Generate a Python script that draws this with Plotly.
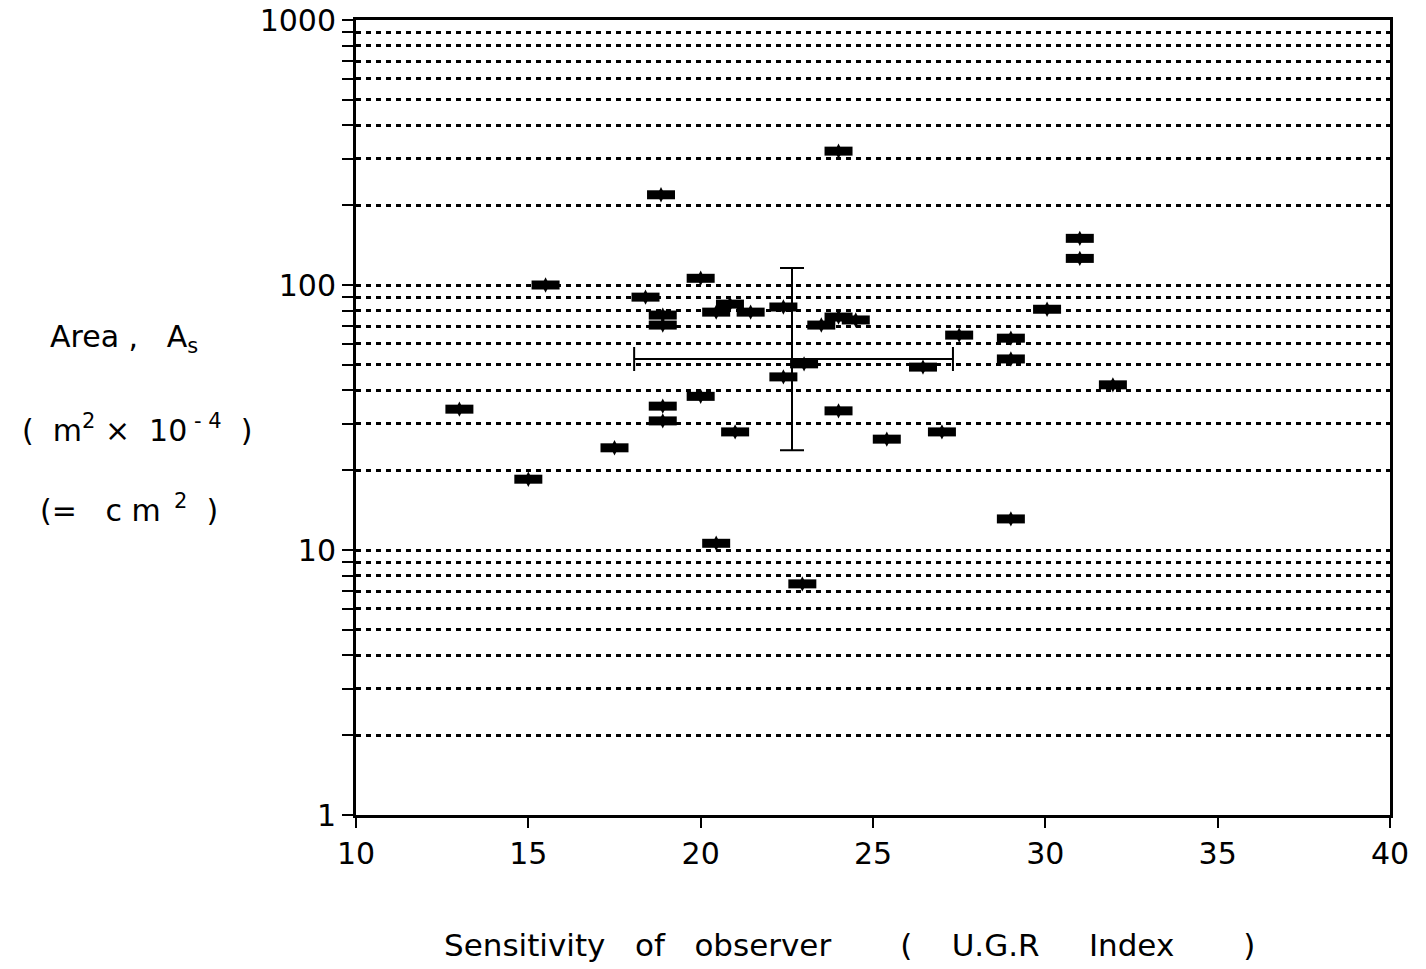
import plotly.graph_objects as go

# ---- data ----
ugr_index = [13.0, 15.0, 15.5, 17.5, 18.4, 18.85, 18.9, 18.9, 18.9, 18.9,
             20.0, 20.0, 20.45, 20.45, 20.85, 21.0, 21.45, 22.4, 22.4, 23.0,
             22.95, 23.5, 24.0, 24.0, 24.0, 24.5, 25.4, 26.45, 27.0, 27.5,
             29.0, 29.0, 29.0, 30.05, 31.0, 31.0, 31.96]
area_cm2 = [34, 18.5, 100, 24.3, 90, 219, 77, 70.6, 34.9, 30.7,
            106, 38, 10.6, 79, 84.7, 27.9, 79, 82.6, 45, 50.4,
            7.45, 70.6, 320, 33.5, 75.7, 73.8, 26.2, 49, 27.9, 64.7,
            63, 52.6, 13.1, 81, 150, 126, 42]

mean_x = [22.65]
mean_y = [52.6]
err_x_minus = [4.58]
err_x_plus = [4.67]
err_y_minus = [28.8]
err_y_plus = [63.3]

y_major_vals = [1, 10, 100, 1000]
y_major_text = ["1", "10", "100", "1000"]
y_minor_vals = [2, 3, 4, 5, 6, 7, 8, 9,
                20, 30, 40, 50, 60, 70, 80, 90,
                200, 300, 400, 500, 600, 700, 800, 900]
x_tick_vals = [10, 15, 20, 25, 30, 35, 40]

FONT = "DejaVu Sans, sans-serif"

fig = go.Figure()

fig.add_trace(go.Scatter(
    x=ugr_index, y=area_cm2, mode="markers",
    marker=dict(symbol="line-ew", size=20, color="black",
                line=dict(width=9, color="black")),
    showlegend=False, hoverinfo="x+y"))
fig.add_trace(go.Scatter(
    x=ugr_index, y=area_cm2, mode="markers",
    marker=dict(symbol="diamond-tall", size=11, color="black",
                line=dict(width=0)),
    showlegend=False, hoverinfo="skip"))

fig.add_trace(go.Scatter(
    x=mean_x, y=mean_y, mode="markers",
    marker=dict(size=1, color="rgba(0,0,0,0)"),
    error_x=dict(type="data", symmetric=False, array=err_x_plus,
                 arrayminus=err_x_minus, color="black", thickness=2, width=12),
    error_y=dict(type="data", symmetric=False, array=err_y_plus,
                 arrayminus=err_y_minus, color="black", thickness=2, width=12),
    showlegend=False, hoverinfo="skip"))

L, R, T, B = 356, 36, 20, 154
W, H = 1426, 969
pw, ph = W - L - R, H - T - B


def px(xp):
    return (xp - L) / pw


def py(yp):
    return (H - B - yp) / ph


fig.update_layout(
    width=W, height=H,
    margin=dict(l=L, r=R, t=T, b=B),
    paper_bgcolor="white", plot_bgcolor="white",
    font=dict(family=FONT, size=30, color="black"),
    xaxis=dict(range=[10, 40], tickvals=x_tick_vals, ticks="outside",
               ticklen=10, tickwidth=2, tickcolor="black",
               showline=True, linecolor="black", linewidth=3, mirror=True,
               showgrid=False, zeroline=False, automargin=False,
               tickfont=dict(family=FONT, size=30, color="black")),
    yaxis=dict(type="log", range=[0, 3], tickvals=y_major_vals,
               ticktext=y_major_text, ticks="outside", ticklen=11,
               tickwidth=2, tickcolor="black",
               showline=True, linecolor="black", linewidth=3, mirror=True,
               showgrid=True, gridcolor="black", gridwidth=2.5,
               griddash="5px,5px", zeroline=False, automargin=False,
               minor=dict(tickvals=y_minor_vals, ticks="outside", ticklen=11,
                          tickwidth=2, tickcolor="black", showgrid=True,
                          gridcolor="black", gridwidth=2.5,
                          griddash="5px,5px"),
               tickfont=dict(family=FONT, size=30, color="black")),
)

annos = [
    dict(text="Sensitivity   of   observer       (    U.G.R     Index       )",
         x=px(849), y=py(945), xanchor="center", yanchor="middle", size=31),
    dict(text="Area ,   A<sub>s</sub>", x=px(48), y=py(338),
         xanchor="left", yanchor="middle", size=30),
    dict(text="(  m<sup>2</sup> \u00d7  10<sup> - 4</sup>  )", x=px(20), y=py(428),
         xanchor="left", yanchor="middle", size=30),
    dict(text="(=   c m<sup>  2</sup>  )", x=px(38), y=py(508),
         xanchor="left", yanchor="middle", size=30),
]
for a in annos:
    fig.add_annotation(text=a["text"], x=a["x"], y=a["y"], xref="paper",
                       yref="paper", xanchor=a["xanchor"],
                       yanchor=a["yanchor"], showarrow=False,
                       font=dict(family=FONT, size=a["size"], color="black"))

fig.write_html("out.html")
